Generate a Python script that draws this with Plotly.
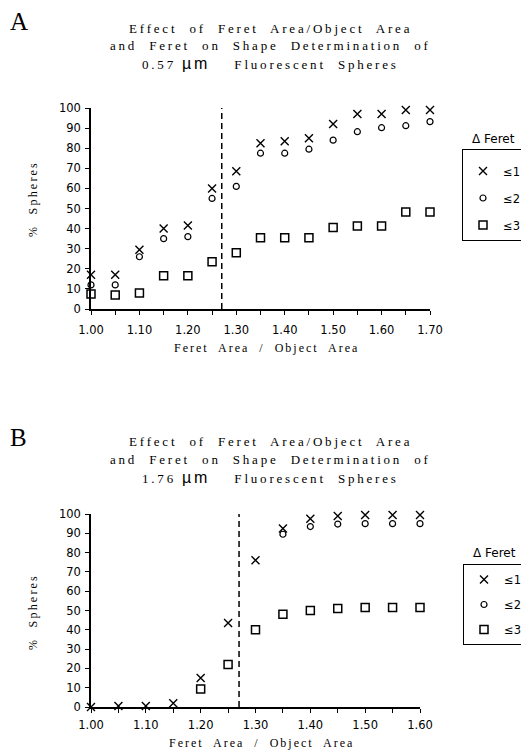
import plotly.graph_objects as go

OFF = 8                 # body margin of the html page
W, H = 529 - OFF, 752 - OFF

# ---------------- data ----------------
ratio_a = [1.00, 1.05, 1.10, 1.15, 1.20, 1.25, 1.30, 1.35, 1.40, 1.45, 1.50, 1.55, 1.60, 1.65, 1.70]
a_le1 = [17, 17, 29.5, 40, 41.5, 60, 68.5, 82.5, 83.5, 85, 92, 97, 97, 99, 99]
a_le2 = [12, 12, 26, 35, 36, 55, 61, 77.5, 77.5, 79.5, 84, 88.2, 90.2, 91.2, 93.2]
a_le3 = [7.5, 7, 8, 16.5, 16.5, 23.5, 28, 35.5, 35.5, 35.5, 40.5, 41.3, 41.3, 48.3, 48.3]

ratio_b = [1.00, 1.05, 1.10, 1.15, 1.20, 1.25, 1.30, 1.35, 1.40, 1.45, 1.50, 1.55, 1.60]
b_le1 = [0, 0.5, 0.5, 2, 15, 43.5, 76, 92.5, 97.5, 99, 99.5, 99.5, 99.5]
b_le2 = [None, None, None, None, None, None, None, 89.5, 93.5, 94.8, 95, 95, 95]
b_le3 = [None, None, None, None, 9.3, 22, 40, 48, 50, 51, 51.5, 51.5, 51.5]

cutoff = 1.27
series_names = ["≤1", "≤2", "≤3"]
legend_title = "Δ Feret"
title_a = ["Effect  of  Feret  Area/Object  Area",
           "and  Feret  on  Shape  Determination  of",
           "0.57 <span style='font-family:Liberation Sans;font-size:16px'>µm</span>    Fluorescent  Spheres"]
title_b = ["Effect  of  Feret  Area/Object  Area",
           "and  Feret  on  Shape  Determination  of",
           "1.76 <span style='font-family:Liberation Sans;font-size:16px'>µm</span>    Fluorescent  Spheres"]
xlabel = "Feret  Area  /  Object  Area"
ylabel = "%  Spheres"

# ---------------- style ----------------
syms = [dict(symbol="x-thin-open", size=8, line=dict(width=1.4, color="black"), color="black"),
        dict(symbol="circle-open", size=6, line=dict(width=1.2, color="black"), color="black"),
        dict(symbol="square-open", size=8, line=dict(width=1.5, color="black"), color="black")]

fig = go.Figure()
for i, ys in enumerate([a_le1, a_le2, a_le3]):
    fig.add_trace(go.Scatter(x=ratio_a, y=ys, mode="markers", name=series_names[i],
                             marker=syms[i], xaxis="x", yaxis="y", cliponaxis=False,
                             legend="legend", legendgroup="a%d" % i))
for i, ys in enumerate([b_le1, b_le2, b_le3]):
    fig.add_trace(go.Scatter(x=ratio_b, y=ys, mode="markers", name=series_names[i],
                             marker=syms[i], xaxis="x2", yaxis="y2", cliponaxis=False,
                             legend="legend2", legendgroup="b%d" % i))

def px_x(p):
    return (p - OFF) / W

def px_y(p):
    return 1 - (p - OFF) / H

sans = "DejaVu Sans, Verdana, sans-serif"
tickfont = dict(family=sans, size=11.5, color="black")
xcommon = dict(showgrid=False, zeroline=False, showline=True, linecolor="black", linewidth=1.5,
               ticks="outside", ticklen=4, tickwidth=1.2, tickcolor="black", dtick=0.1,
               tickformat=".2f", tickfont=tickfont,
               minor=dict(dtick=0.05, ticks="outside", ticklen=4, tickwidth=1.2, tickcolor="black"))
ycommon = dict(showgrid=False, zeroline=False, showline=True, linecolor="black", linewidth=1.5,
               ticks="outside", ticklen=4, tickwidth=1.2, tickcolor="black", dtick=10, range=[0, 100],
               tickfont=tickfont, ticklabelstandoff=2)
# inner half of the crossing tick marks
xin = dict(showgrid=False, zeroline=False, showline=False, ticks="inside", ticklen=3, tickwidth=1.2,
           tickcolor="black", dtick=0.05, showticklabels=False)
yin = dict(showgrid=False, zeroline=False, showline=False, ticks="inside", ticklen=3, tickwidth=1.2,
           tickcolor="black", dtick=10, range=[0, 100], showticklabels=False)

legfont = dict(family=sans, size=11.5, color="black")
fig.update_layout(
    width=W, height=H, margin=dict(l=0, r=0, t=0, b=0, autoexpand=False),
    paper_bgcolor="white", plot_bgcolor="white",
    xaxis=dict(domain=[px_x(91), px_x(430)], range=[1.0, 1.7], anchor="y",
               ticklabelstandoff=5, **xcommon),
    yaxis=dict(domain=[px_y(309), px_y(108)], anchor="x", **ycommon),
    xaxis2=dict(domain=[px_x(91), px_x(420)], range=[1.0, 1.6], anchor="y2",
                ticklabelstandoff=2, **xcommon),
    yaxis2=dict(domain=[px_y(707), px_y(514)], anchor="x2", **ycommon),
    xaxis3=dict(overlaying="x", anchor="y", range=[1.0, 1.7], **xin),
    yaxis3=dict(overlaying="y", anchor="x", **yin),
    xaxis4=dict(overlaying="x2", anchor="y2", range=[1.0, 1.6], **xin),
    yaxis4=dict(overlaying="y2", anchor="x2", **yin),
    legend=dict(x=px_x(462), y=px_y(149), xanchor="left", yanchor="top",
                bordercolor="black", borderwidth=1, bgcolor="white",
                title=dict(text=" ", font=dict(size=5)),
                traceorder="grouped", tracegroupgap=8, itemwidth=30, font=legfont),
    legend2=dict(x=px_x(463), y=px_y(564), xanchor="left", yanchor="top",
                 bordercolor="black", borderwidth=1, bgcolor="white",
                 traceorder="grouped", tracegroupgap=6, itemwidth=30, font=legfont),
    showlegend=True,
)

# dashed cut-off lines
fig.add_shape(type="line", xref="x", yref="y", x0=cutoff, x1=cutoff, y0=0, y1=101.5,
              line=dict(color="black", width=1.5, dash="6px,4px"))
fig.add_shape(type="line", xref="x2", yref="y2", x0=cutoff, x1=cutoff, y0=0, y1=100,
              line=dict(color="black", width=1.5, dash="6px,4px"))

serif = "Liberation Serif, Times New Roman, serif"

def ann(text, x, y, size, family=serif, spacing=None, angle=0, xanchor="center"):
    if spacing is not None:
        text = "<span style='letter-spacing:%spx'>%s</span>" % (spacing, text)
    fig.add_annotation(text=text, x=px_x(x), y=px_y(y), xref="paper", yref="paper",
                       showarrow=False, xanchor=xanchor, yanchor="middle", textangle=angle,
                       font=dict(family=family, size=size, color="black"))

ann("A", 8, 22, 25, xanchor="left")
ann("B", 8, 437, 25, xanchor="left")

for line, yy in zip(title_a, [29, 46, 63]):
    ann(line, 270, yy, 13, spacing=2.8)
for line, yy in zip(title_b, [441, 459, 477]):
    ann(line, 270, yy, 13, spacing=2.8)

ann(xlabel, 266, 348, 12, spacing=2)
ann(xlabel, 261, 743, 12, spacing=2)
ann(ylabel, 33, 199, 12, spacing=2.2, angle=-90)
ann(ylabel, 33, 612, 12, spacing=2.2, angle=-90)

ann(legend_title, 493, 139, 12, family=sans)
ann(legend_title, 494, 553, 12, family=sans)

fig.write_html("out.html")
